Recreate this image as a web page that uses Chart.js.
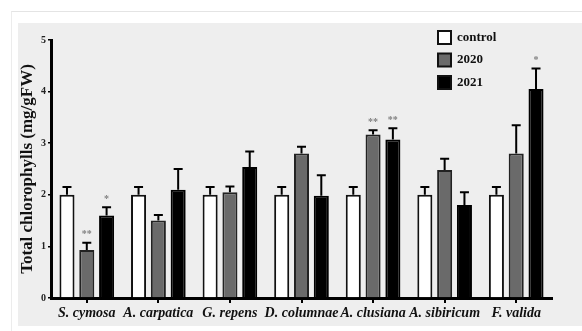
<!DOCTYPE html>
<html>
<head>
<meta charset="utf-8">
<script src="https://cdn.jsdelivr.net/npm/chart.js@4.4.1/dist/chart.umd.min.js"></script>
<style>
  body { margin: 0; background: #fff; }
  #page { position: relative; width: 582px; height: 331px; overflow: hidden; }
  #frame { position: absolute; left: 11px; top: 11px; width: 580px; height: 330px; border-top: 1px solid #e4e4e4; border-left: 1px solid #ececec; }
  #panel { position: absolute; left: 18px; top: 23px; width: 564px; height: 303px; background: #eeeeee; }
  #chart { position: absolute; left: 0; top: 0; }
</style>
</head>
<body>
<div id="page">
  <div id="frame"></div>
  <div id="panel"></div>
  <canvas id="chart" width="582" height="331"></canvas>
</div>
<script>
// species on the x axis
var categories = ["S. cymosa", "A. carpatica", "G. repens", "D. columnae", "A. clusiana", "A. sibiricum", "F. valida"];

// total chlorophylls (mg/gFW), means and upper error
var control = [2.0, 2.0, 2.0, 2.0, 2.0, 2.0, 2.0];
var controlErr = [0.15, 0.15, 0.15, 0.15, 0.15, 0.15, 0.15];
var y2020 = [0.93, 1.50, 2.05, 2.80, 3.17, 2.48, 2.80];
var err2020 = [0.14, 0.11, 0.11, 0.13, 0.08, 0.22, 0.55];
var y2021 = [1.60, 2.10, 2.54, 1.98, 3.07, 1.80, 4.05];
var err2021 = [0.16, 0.40, 0.30, 0.40, 0.22, 0.25, 0.40];

// significance marks
var stars2020 = ["**", "", "", "", "**", "", ""];
var stars2021 = ["*", "", "", "", "**", "", "*"];

var yTicks = [0, 1, 2, 3, 4, 5];

var serif = "'Liberation Serif', 'DejaVu Serif', serif";

// draws the error bars and the asterisks above them
var errorBars = {
    id: "errorBars",
    afterDatasetsDraw: function(chart) {
        var ctx = chart.ctx;
        var yScale = chart.scales.y;
        chart.data.datasets.forEach(function(ds, i) {
            var meta = chart.getDatasetMeta(i);
            meta.data.forEach(function(bar, j) {
                var top = yScale.getPixelForValue(ds.data[j] + ds.errors[j]);
                ctx.save();
                ctx.strokeStyle = "#000";
                ctx.lineWidth = 2;
                ctx.beginPath();
                ctx.moveTo(bar.x, bar.y);
                ctx.lineTo(bar.x, top);
                ctx.moveTo(bar.x - 4.5, top);
                ctx.lineTo(bar.x + 4.5, top);
                ctx.stroke();
                if (ds.stars[j]) {
                    ctx.fillStyle = "#808080";
                    ctx.font = "bold 10px " + serif;
                    ctx.textAlign = "center";
                    ctx.textBaseline = "bottom";
                    ctx.fillText(ds.stars[j], bar.x, top - 3);
                }
                ctx.restore();
            });
        });
    }
};

// vertical legend in the upper right corner
var sideLegend = {
    id: "sideLegend",
    afterDraw: function(chart) {
        var ctx = chart.ctx;
        var x = 438, y = 31;
        chart.data.datasets.forEach(function(ds, i) {
            var yy = y + i * 22.5;
            ctx.save();
            ctx.fillStyle = ds.backgroundColor;
            ctx.strokeStyle = "#111";
            ctx.lineWidth = 2;
            ctx.fillRect(x, yy, 13, 13);
            ctx.strokeRect(x, yy, 13, 13);
            ctx.fillStyle = "#111";
            ctx.font = "bold 13px " + serif;
            ctx.textBaseline = "middle";
            ctx.fillText(ds.label, x + 19, yy + 6.5);
            ctx.restore();
        });
    }
};

var ctx = document.getElementById("chart").getContext("2d");
new Chart(ctx, {
    type: "bar",
    data: {
        labels: categories,
        datasets: [
            { label: "control", data: control, errors: controlErr, stars: ["", "", "", "", "", "", ""],
              backgroundColor: "#ffffff", borderColor: "#111", borderWidth: 2 },
            { label: "2020", data: y2020, errors: err2020, stars: stars2020,
              backgroundColor: "#6a6a6a", borderColor: "#222", borderWidth: 2 },
            { label: "2021", data: y2021, errors: err2021, stars: stars2021,
              backgroundColor: "#000000", borderColor: "#000", borderWidth: 2 }
        ]
    },
    options: {
        responsive: false,
        animation: false,
        devicePixelRatio: 1,
        categoryPercentage: 0.83,
        barPercentage: 0.76,
        layout: { padding: { left: 17, top: 40, right: 30, bottom: 0 } },
        plugins: {
            legend: { display: false },
            tooltip: { enabled: false }
        },
        scales: {
            x: {
                grid: { display: true, drawOnChartArea: false, offset: false, color: "#000", lineWidth: 2, tickLength: 5 },
                border: { display: true, color: "#000", width: 3 },
                ticks: { color: "#111", padding: 2, maxRotation: 0, minRotation: 0, autoSkip: false,
                         font: { family: serif, size: 14, style: "italic", weight: "bold" } },
                afterFit: function(scale) { scale.height = 33; }
            },
            y: {
                min: 0,
                max: 5,
                afterBuildTicks: function(scale) {
                    scale.ticks = yTicks.map(function(v) { return { value: v }; });
                },
                grid: { display: true, drawOnChartArea: false, color: "#000", lineWidth: 1.5, tickLength: 3 },
                border: { display: true, color: "#000", width: 3 },
                ticks: { color: "#222", padding: 2, font: { family: serif, size: 10, weight: "bold" } },
                title: { display: true, text: "Total chlorophylls (mg/gFW)", color: "#111", padding: { top: 0, bottom: 4 },
                         font: { family: serif, size: 17, weight: "bold" } },
                afterFit: function(scale) { scale.width = 34; }
            }
        }
    },
    plugins: [errorBars, sideLegend]
});
</script>
</body>
</html>
